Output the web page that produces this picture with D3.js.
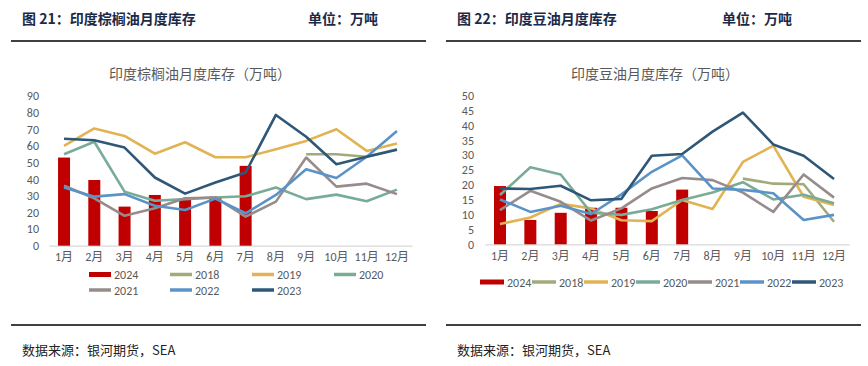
<!DOCTYPE html>
<html><head><meta charset="utf-8">
<script src="https://cdn.jsdelivr.net/npm/d3@7"></script>
<style>
html,body{margin:0;padding:0;background:#fff;}
svg{display:block;}
</style></head>
<body>
<svg id="c" width="868" height="366"></svg>
<script>
const months = ["1月","2月","3月","4月","5月","6月","7月","8月","9月","10月","11月","12月"];
const seriesNames = ["2024","2018","2019","2020","2021","2022","2023"];
const seriesColors = ["#C00000","#A0AB7C","#E1B352","#79AC97","#968C8B","#5A93C8","#2E5778"];

// Palm oil (left)
const palm2024 = [53,39.5,23.5,30.5,28.5,29.5,48];
const palm2018 = [null,null,null,null,null,null,null,null,55,55,53.5,58];
const palm2019 = [60,70.5,66,55.3,62.2,53.2,53.2,58,63,70,57,61.5];
const palm2020 = [55,62.5,32.5,27,28,29,29.7,35,28,30.7,26.7,33.7];
const palm2021 = [36,28.5,18,22.5,28.5,29,17.5,26.5,53,35.5,37.3,31];
const palm2022 = [35,29.5,31,24,21.5,28.3,19.5,30.5,46,40.7,53.5,69];
const palm2023 = [64.3,63.4,59,41,31.3,38,44,78.6,65.5,49,53.5,57.7];
const palmTicks = [0,10,20,30,40,50,60,70,80,90];

// Soybean oil (right)
const soy2024 = [19.6,8.2,10.6,12.3,12.3,11.2,18.4];
const soy2018 = [null,null,null,null,null,null,null,null,22.1,20.4,20.2,7.6];
const soy2019 = [6.8,9,13.6,12.1,8.1,7.8,14.9,11.9,27.7,33.2,16,13.2];
const soy2020 = [16.6,25.9,23.5,10.6,9.9,11.8,14.9,17.4,20.9,15.1,16.7,13.8];
const soy2021 = [11.5,18,14.3,8,12.1,18.8,22.3,21.6,17.4,10.9,23.5,15.7];
const soy2022 = [15.1,10.9,13,10.2,16.8,24.4,29.9,18.8,18.3,17.2,8.2,9.9];
const soy2023 = [18.8,18.6,19.7,14.8,15.3,29.8,30.4,37.9,44.3,33.6,29.8,22];
const soyTicks = [0,5,10,15,20,25,30,35,40,45,50];

const svg = d3.select("#c");
const headFont = "'Noto Sans CJK SC','Noto Sans',sans-serif";
const tickFont = "Calibri,'Liberation Sans','Noto Sans CJK SC',sans-serif";

function panel(o){
  // header
  svg.append("text").attr("x",o.hx).attr("y",24).attr("font-family",headFont).attr("font-weight",700)
    .attr("font-size",14).attr("fill","#1B2A48").text(o.head);
  svg.append("text").attr("x",o.ux).attr("y",24).attr("font-family",headFont).attr("font-weight",700)
    .attr("font-size",14).attr("fill","#1B2A48").text("单位：万吨");
  svg.append("line").attr("x1",o.l0).attr("x2",o.l1).attr("y1",41).attr("y2",41).attr("stroke","#000").attr("stroke-width",1.5);
  svg.append("line").attr("x1",o.l0).attr("x2",o.l1).attr("y1",325).attr("y2",325).attr("stroke","#000").attr("stroke-width",1.5);
  svg.append("text").attr("x",o.hx).attr("y",355).attr("font-family",headFont)
    .attr("font-size",13).attr("fill","#222").text("数据来源：银河期货，SEA");
  // title
  svg.append("text").attr("x",o.tx).attr("y",79).attr("text-anchor","middle").attr("font-family",headFont)
    .attr("font-size",14).attr("fill","#595959").text(o.title);

  const x = d3.scaleBand().domain(months).range(o.xr);
  const y = d3.scaleLinear().domain([0,o.ymax]).range(o.yr);
  const g = svg.append("g");
  // y axis
  const ya = d3.axisLeft(y).tickValues(o.ticks).tickSize(0).tickPadding(0);
  const yg = g.append("g").attr("transform",`translate(${o.ylab},0)`).call(ya);
  yg.select(".domain").remove();
  yg.selectAll("text").attr("font-family",tickFont).attr("font-size",12).attr("fill","#595959");
  // x axis
  const xa = d3.axisBottom(x).tickSize(0).tickPadding(7);
  const xg = g.append("g").attr("transform",`translate(0,${o.yr[0]})`).call(xa);
  xg.select(".domain").attr("stroke","#D9D9D9").attr("stroke-width",1.2);
  xg.selectAll("text").attr("font-family",tickFont).attr("font-size",12).attr("fill","#595959");
  // bars
  const bw = 12;
  g.selectAll("rect.bar").data(o.bars).enter().append("rect")
    .attr("x",(d,i)=>x(months[i])+x.bandwidth()/2-bw/2)
    .attr("y",d=>y(d)).attr("width",bw).attr("height",d=>y(0)-y(d)).attr("fill",seriesColors[0]);
  // lines
  const line = d3.line().defined(d=>d!=null).x((d,i)=>x(months[i])+x.bandwidth()/2).y(d=>y(d));
  o.lines.forEach((arr,k)=>{
    g.append("path").datum(arr).attr("d",line).attr("fill","none")
      .attr("stroke",seriesColors[k+1]).attr("stroke-width",2.6).attr("stroke-linejoin","round");
  });
  // legend
  o.legend.forEach((p,i)=>{
    const lg = svg.append("g").attr("transform",`translate(${p[0]},${p[1]})`);
    if(i===0) lg.append("rect").attr("x",0).attr("y",-2.5).attr("width",o.sw).attr("height",5).attr("fill",seriesColors[0]);
    else lg.append("line").attr("x1",0).attr("x2",o.sw).attr("y1",0).attr("y2",0).attr("stroke",seriesColors[i]).attr("stroke-width",3.5);
    lg.append("text").attr("x",o.sw+3).attr("y",4.5).attr("font-family",tickFont).attr("font-size",12).attr("fill","#595959").text(seriesNames[i]);
  });
}

panel({
  head:"图 21：印度棕榈油月度库存", hx:22, ux:308, l0:11, l1:426,
  title:"印度棕榈油月度库存（万吨）", tx:200,
  xr:[48.9,412.1], yr:[245.7,96], ymax:90, ticks:palmTicks, ylab:39,
  bars:palm2024, lines:[palm2018,palm2019,palm2020,palm2021,palm2022,palm2023],
  sw:22,
  legend:[[89,274.5],[170,274.5],[252,274.5],[334,274.5],[89,290],[170,290],[252,290]]
});
panel({
  head:"图 22：印度豆油月度库存", hx:457, ux:722, l0:446, l1:861,
  title:"印度豆油月度库存（万吨）", tx:655,
  xr:[484.8,849.2], yr:[244.3,95.7], ymax:50, ticks:soyTicks, ylab:474,
  bars:soy2024, lines:[soy2018,soy2019,soy2020,soy2021,soy2022,soy2023],
  sw:24,
  legend:[[480,282],[532,282],[584,282],[636,282],[688,282],[740,282],[792,282]]
});
</script>
</body></html>
